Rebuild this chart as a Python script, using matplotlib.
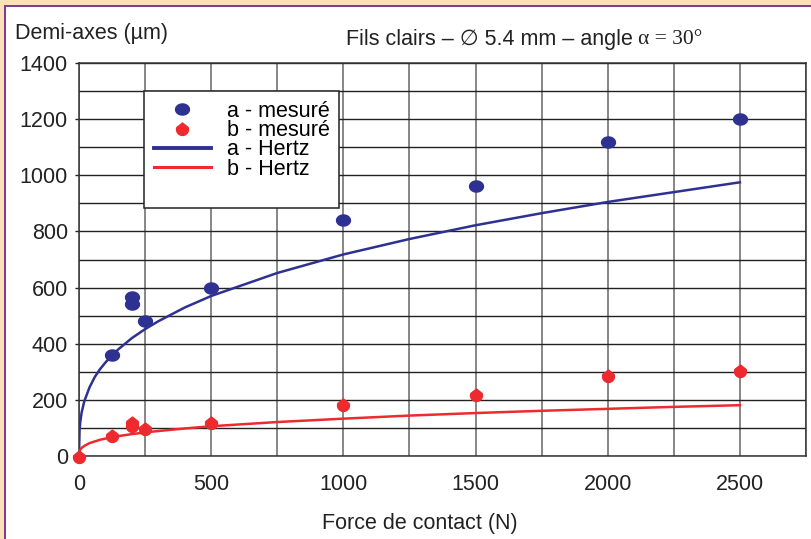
import numpy as np
import matplotlib.pyplot as plt
from matplotlib.path import Path
from matplotlib.patches import Rectangle
from matplotlib.lines import Line2D

plt.rcParams['font.family'] = ['Liberation Sans', 'DejaVu Sans']

# mesures (N, µm)
force_a = [125, 200, 200, 250, 500, 1000, 1500, 2000, 2500]
a_mesure = [360, 565, 540, 482, 600, 842, 962, 1118, 1200]
force_b = [0, 125, 200, 200, 250, 500, 1000, 1500, 2000, 2500]
b_mesure = [0, 75, 122, 110, 98, 122, 184, 222, 290, 305]

# courbes de Hertz
force_h = [0, 2, 5, 10, 20, 40, 60, 80, 100, 125, 150, 200, 250, 300, 400,
           500, 750, 1000, 1250, 1500, 1750, 2000, 2250, 2500]
a_hertz = [0, 90, 123, 155, 195, 245, 282, 310, 333, 359, 381, 420, 452, 480,
           529, 570, 652, 718, 773, 822, 865, 905, 940, 975]
b_hertz = [0, 17, 23, 29, 36, 46, 52, 58, 62, 67, 71, 78, 84, 89, 98,
           106, 121, 133, 144, 153, 161, 168, 175, 181]

x_ticks = [0, 500, 1000, 1500, 2000, 2500]
y_ticks = [0, 200, 400, 600, 800, 1000, 1200, 1400]

bleu = '#2E3192'
rouge = '#EE2A2E'
peche = '#FCE0BA'
violet = '#7D3C98'
encre = '#222222'
fs = 15.5

# marqueur "goutte" pour b : arrondi en bas, petite pointe en haut
ang = np.linspace(np.pi - 0.35, 2 * np.pi + 0.35, 24)
arc = np.column_stack([0.6 * np.cos(ang), -0.1 + 0.6 * np.sin(ang)])
verts = np.vstack([arc, [[0, 0.55]], arc[:1]])
goutte = Path(verts, [Path.MOVETO] + [Path.LINETO] * (len(verts) - 2) + [Path.CLOSEPOLY])

# cercle légèrement aplati pour a
t = np.linspace(0, 2 * np.pi, 40)
ell = np.column_stack([np.cos(t), 0.8 * np.sin(t)])
ovale = Path(ell, [Path.MOVETO] + [Path.LINETO] * (len(ell) - 2) + [Path.CLOSEPOLY])

fig = plt.figure(figsize=(8.11, 5.39), dpi=100)
fig.patch.set_facecolor('white')

# bandeau de page
fig.patches.append(Rectangle((0, 1 - 5 / 539), 1, 5 / 539, transform=fig.transFigure,
                             facecolor=peche, edgecolor='none', zorder=0))
fig.patches.append(Rectangle((0, 0), 4 / 811, 1, transform=fig.transFigure,
                             facecolor=peche, edgecolor='none', zorder=0))
fig.patches.append(Rectangle((4 / 811, 0), 2 / 811, 1 - 5 / 539, transform=fig.transFigure,
                             facecolor=violet, edgecolor='none', zorder=1))
fig.patches.append(Rectangle((4 / 811, 1 - 7 / 539), 1, 2 / 539, transform=fig.transFigure,
                             facecolor=violet, edgecolor='none', zorder=1))

ax = fig.add_axes([79 / 811, 1 - 456 / 539, 727 / 811, 393 / 539])
ax.set_xlim(0, 2750)
ax.set_ylim(0, 1400)

ax.set_xticks(x_ticks)
ax.set_xticks(np.arange(0, 2751, 250), minor=True)
ax.set_yticks(y_ticks)
ax.set_yticks(np.arange(0, 1401, 100), minor=True)
ax.tick_params(axis='x', which='both', length=0, pad=13, labelsize=fs, colors=encre)
ax.tick_params(axis='y', which='major', length=3, width=1, pad=5, labelsize=fs, colors=encre)
ax.tick_params(axis='y', which='minor', length=0)
ax.xaxis.grid(True, which='both', color='#666666', lw=1.1)
ax.yaxis.grid(True, which='both', color=encre, lw=1.0)
ax.set_axisbelow(True)
for s in ax.spines.values():
    s.set_color('#333333')
    s.set_linewidth(1.1)

ax.plot(force_h, a_hertz, color=bleu, lw=1.8, zorder=3)
ax.plot(force_h, b_hertz, color=rouge, lw=1.8, zorder=3)
ax.plot(force_a, a_mesure, ls='none', marker=ovale, color=bleu, ms=10, zorder=4, clip_on=False)
ax.plot(force_b, b_mesure, ls='none', marker=goutte, color=rouge, ms=10, zorder=4, clip_on=False)

handles = [
    Line2D([], [], ls='none', marker=ovale, color=bleu, ms=10),
    Line2D([], [], ls='none', marker=goutte, color=rouge, ms=10),
    Line2D([], [], color=bleu, lw=2.8),
    Line2D([], [], color=rouge, lw=2.2),
    Line2D([], [], ls='none'),
]
labels = ['a - mesuré', 'b - mesuré', 'a - Hertz', 'b - Hertz', ' ']
leg = ax.legend(handles, labels, loc='upper left', bbox_to_anchor=(65 / 727, 365 / 393),
                borderaxespad=0, fancybox=False, framealpha=1, edgecolor=encre,
                fontsize=fs, handlelength=2.65, handletextpad=0.75, labelspacing=-0.08,
                borderpad=0.45)
leg.get_frame().set_linewidth(1.1)
leg.set_zorder(5)

ax.set_xlabel('Force de contact (N)', fontsize=fs, color=encre)
ax.xaxis.set_label_coords((420 - 79) / 727, -57 / 393)

fig.text(15 / 811, 1 - 33 / 539, 'Demi-axes (µm)', fontsize=fs, color=encre,
         ha='left', va='center')
t1 = fig.text(346 / 811, 1 - 40 / 539, 'Fils clairs – \u2205 5.4 mm – angle', fontsize=fs,
              color=encre, ha='left', va='center')
ax.annotate('\u03b1 = 30°', xy=(1, 0), xycoords=t1, xytext=(4, 1), textcoords='offset points',
            ha='left', va='bottom', fontsize=fs, color=encre, family='Liberation Serif',
            annotation_clip=False)

fig.savefig('out.png', dpi=100)
